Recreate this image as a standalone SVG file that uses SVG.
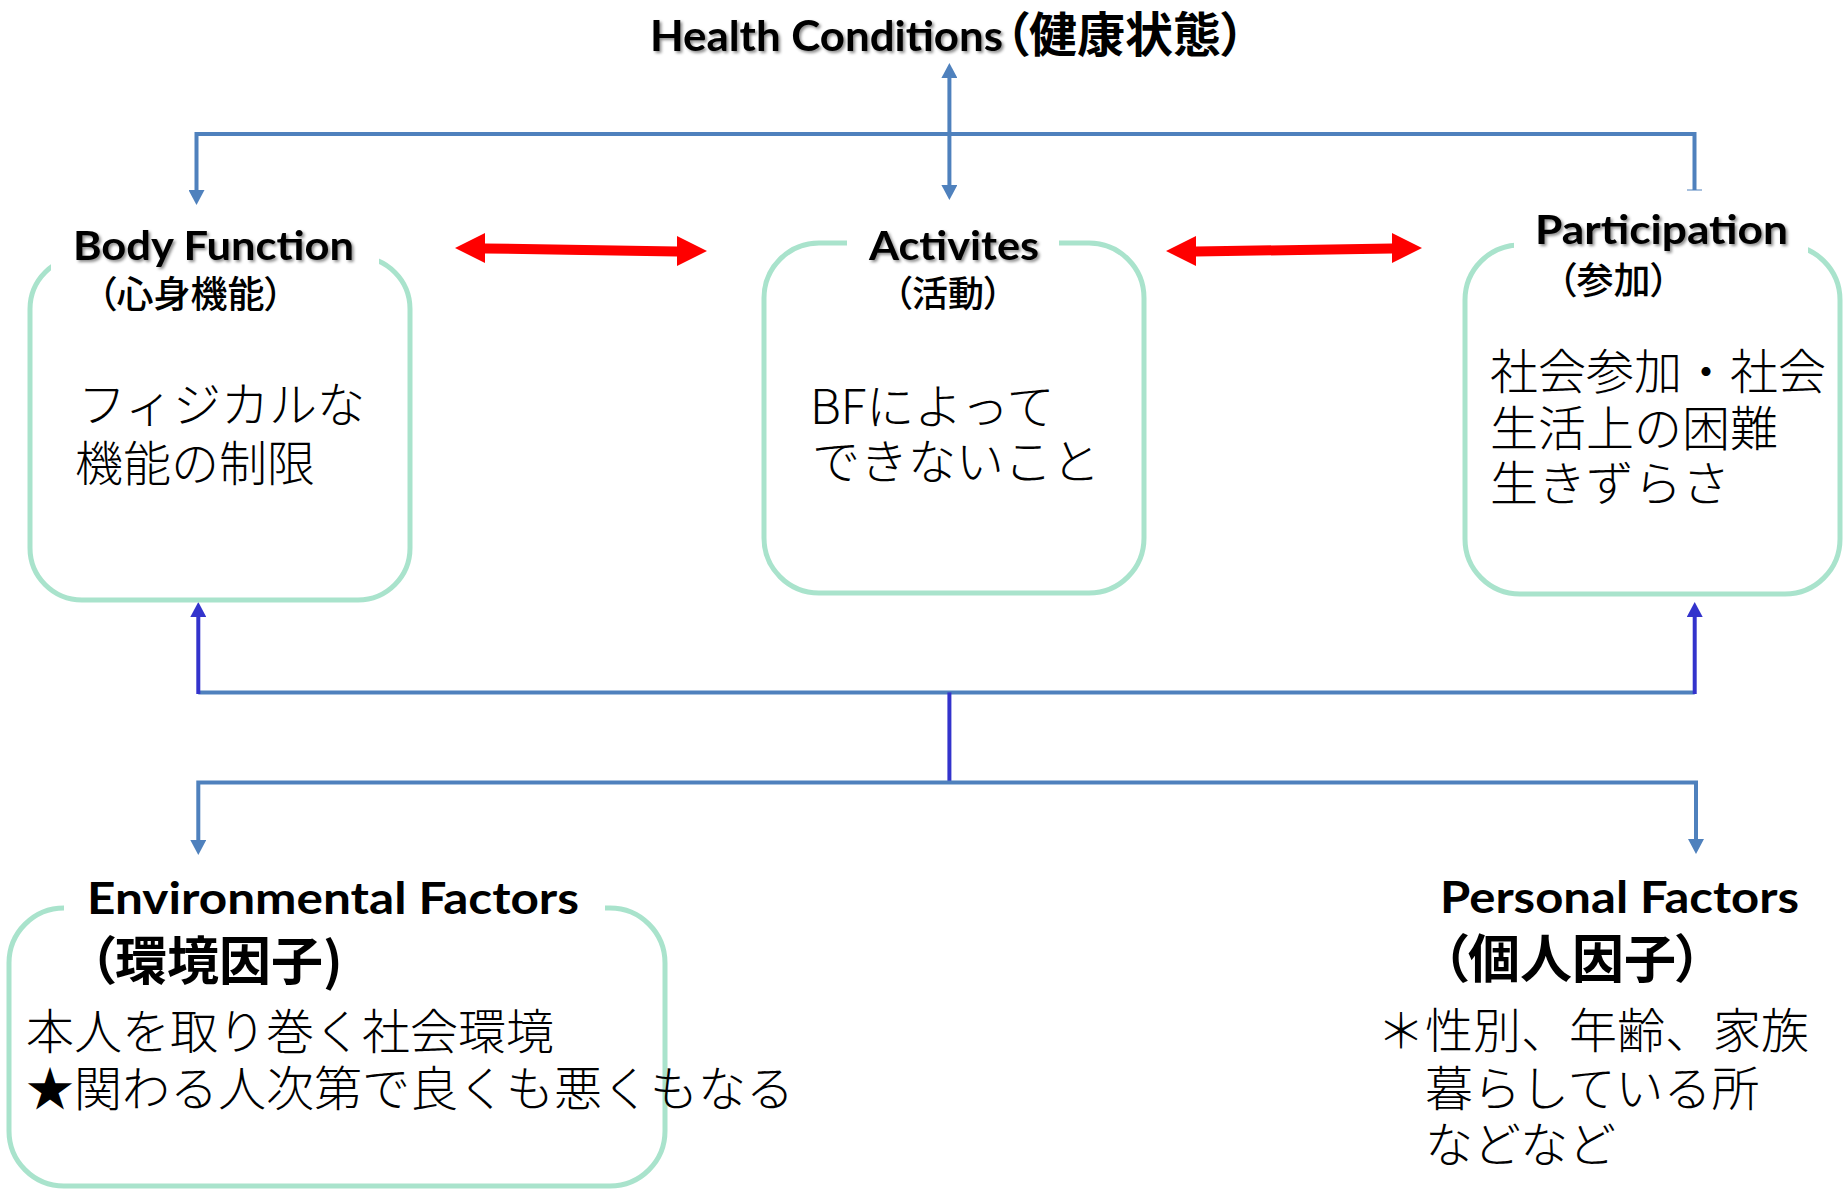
<svg xmlns="http://www.w3.org/2000/svg" width="1843" height="1189" viewBox="0 0 1843 1189">
<style>
.box{fill:none;stroke:#A9E3CC;stroke-width:5}
.gap{fill:#FFFFFF;stroke:none}
.lat{font-family:Lato,"Open Sans","Liberation Sans",sans-serif;font-weight:700;fill:#000}
.cjkb{font-family:"Noto Sans CJK JP","Noto Sans CJK SC",sans-serif;font-weight:700;fill:#000;font-feature-settings:"palt"}
.cjkm{font-family:"Noto Sans CJK JP","Noto Sans CJK SC",sans-serif;font-weight:500;fill:#000;font-feature-settings:"palt"}
.body{font-family:"Noto Sans CJK JP","Noto Sans CJK SC",sans-serif;font-weight:300;font-size:48px;fill:#000}
.blue{fill:none;stroke:#4F81BD;stroke-width:4}
.purple{fill:none;stroke:#3333CC;stroke-width:4}
.red{fill:#FF0000;stroke:none}
.shadow{filter:url(#sh)}
</style>
<defs>
<filter id="sh" x="-10%" y="-30%" width="120%" height="160%">
<feDropShadow dx="2" dy="2" stdDeviation="1.8" flood-color="#000" flood-opacity="0.45"/>
</filter>
<marker id="ab" markerUnits="userSpaceOnUse" markerWidth="15" markerHeight="16" refX="5" refY="8" orient="auto-start-reverse">
<path d="M0,0 L15,8 L0,16 Z" fill="#4F81BD"/>
</marker>
<marker id="ap" markerUnits="userSpaceOnUse" markerWidth="15" markerHeight="16" refX="5" refY="8" orient="auto-start-reverse">
<path d="M0,0 L15,8 L0,16 Z" fill="#3333CC"/>
</marker>
</defs>
<rect width="1843" height="1189" fill="#FFFFFF"/>

<g id="connectors">
<path class="blue" d="M1694.5,190 V134 H196.5 V195" stroke-linejoin="miter" marker-end="url(#ab)"/>
<rect x="1687" y="189" width="15" height="2" fill="#4F81BD" opacity="0.5"/>
<path class="blue" d="M949.4,73 V190" stroke-width="3.5" marker-start="url(#ab)" marker-end="url(#ab)"/>
<polygon class="red" points="455,248 485,233 485,243.4 677,246.6 677,236 707,251 677,266 677,256.6 485,253.4 485,263"/>
<polygon class="red" points="1166,251 1196,236 1196,246.6 1392,243.4 1392,233 1422,248 1392,263 1392,253.4 1196,256.6 1196,266"/>
<path class="blue" d="M198.3,692.4 H1694.7"/>
<path class="purple" d="M198.3,694 V612" marker-end="url(#ap)"/>
<path class="purple" d="M1694.7,694 V612" marker-end="url(#ap)"/>
<path class="purple" d="M949.4,692.4 V782.5" stroke-width="3"/>
<path class="blue" d="M198.3,845 V782.5 H1696 V844" stroke-linejoin="miter" marker-start="url(#ab)" marker-end="url(#ab)"/>
</g>

<g id="node-health">
<text class="lat shadow" x="650" y="51" font-size="42" textLength="353" lengthAdjust="spacingAndGlyphs">Health Conditions</text>
<text class="cjkb" x="1005" y="52" font-size="48">（健康状態）</text>
</g>

<g id="node-body">
<rect class="box" x="30" y="257" width="380" height="343" rx="52" ry="52"/>
<rect class="gap" x="51" y="225" width="328" height="47"/>
<text class="lat shadow" x="73" y="260" font-size="40" textLength="281" lengthAdjust="spacingAndGlyphs">Body Function</text>
<text class="cjkm" x="98" y="308" font-size="37">（心身機能）</text>
<text class="body" x="78" y="422">フィジカルな</text>
<text class="body" x="75" y="481">機能の制限</text>
</g>

<g id="node-activities">
<rect class="box" x="764" y="243" width="380" height="350" rx="55" ry="55"/>
<rect class="gap" x="847" y="218" width="212" height="45"/>
<text class="lat shadow" x="869" y="260" font-size="40" textLength="170" lengthAdjust="spacingAndGlyphs">Activites</text>
<text class="cjkm" x="894" y="307" font-size="36">（活動）</text>
<text class="body" x="810" y="424">BFによって</text>
<text class="body" x="812" y="479">できないこと</text>
</g>

<g id="node-participation">
<rect class="box" x="1465" y="245" width="375" height="349" rx="55" ry="55"/>
<rect class="gap" x="1514" y="200" width="294" height="62"/>
<text class="lat shadow" x="1535" y="244" font-size="40" textLength="253" lengthAdjust="spacingAndGlyphs">Participation</text>
<text class="cjkm" x="1558" y="294" font-size="37">（参加）</text>
<text class="body" x="1490" y="389">社会参加・社会</text>
<text class="body" x="1490" y="446">生活上の困難</text>
<text class="body" x="1490" y="501">生きずらさ</text>
</g>

<g id="node-environment">
<rect class="box" x="9" y="908" width="656" height="278" rx="55" ry="55"/>
<rect class="gap" x="64" y="872" width="541" height="52"/>
<text class="lat" x="87" y="914" font-size="44" textLength="492" lengthAdjust="spacingAndGlyphs">Environmental Factors</text>
<text class="cjkb" x="89" y="980" font-size="52">（環境因子)</text>
<text class="body" x="26" y="1049">本人を取り巻く社会環境</text>
<text class="body" x="26" y="1106">★関わる人次第で良くも悪くもなる</text>
</g>

<g id="node-personal">
<text class="lat" x="1440" y="913" font-size="44" textLength="359" lengthAdjust="spacingAndGlyphs">Personal Factors</text>
<text class="cjkb" x="1442" y="978" font-size="52">（個人因子）</text>
<text class="body" x="1377" y="1048">＊性別、年齢、家族</text>
<text class="body" x="1425" y="1106">暮らしている所</text>
<text class="body" x="1425" y="1162">などなど</text>
</g>
</svg>
